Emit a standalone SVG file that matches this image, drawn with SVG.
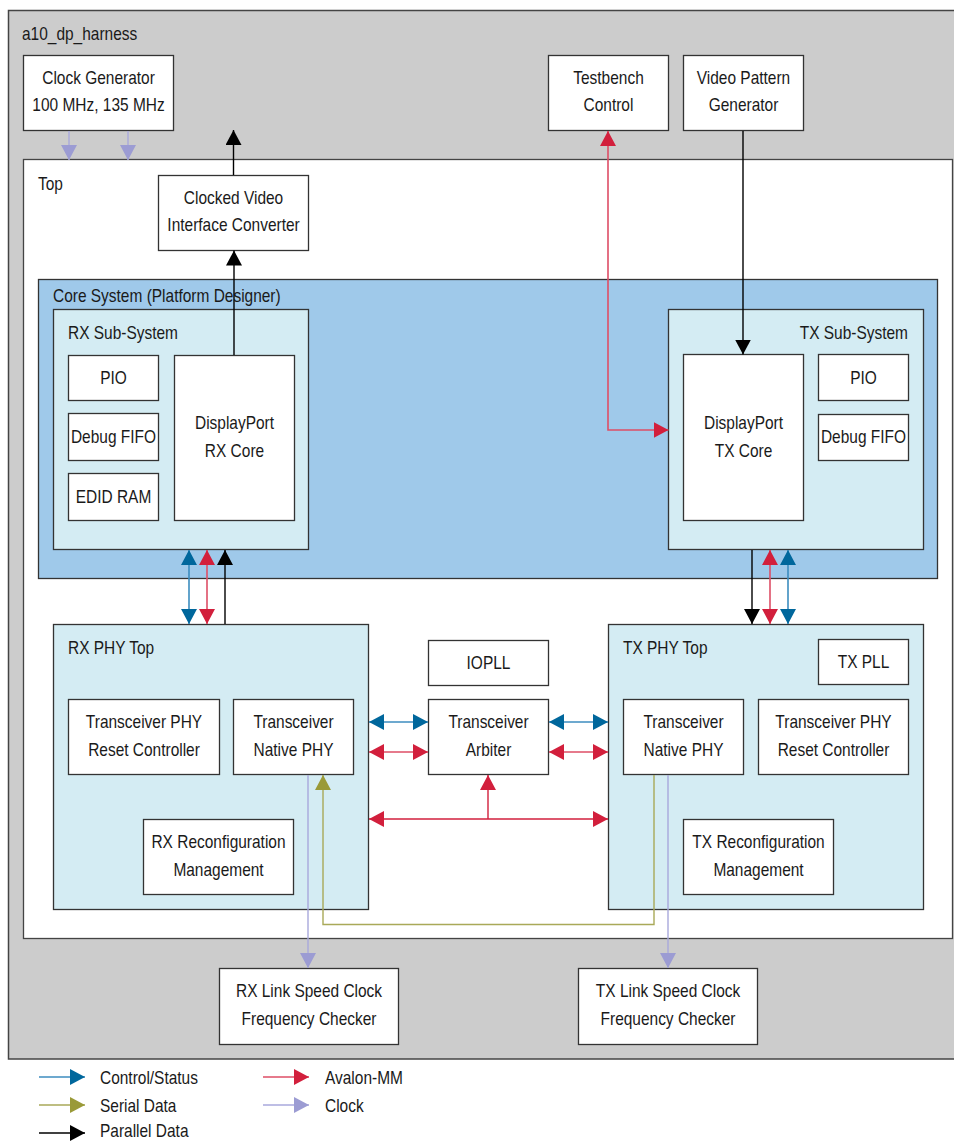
<svg xmlns="http://www.w3.org/2000/svg" width="954" height="1142" viewBox="0 0 954 1142">
<style>
.t{font-family:"Liberation Sans",Arial,sans-serif;font-size:18px;fill:#1a1a1a}
.c{text-anchor:middle;transform-box:fill-box;transform-origin:center;transform:scaleX(0.86)}
.l{transform-box:fill-box;transform-origin:left center;transform:scaleX(0.86)}
.r{text-anchor:end;transform-box:fill-box;transform-origin:right center;transform:scaleX(0.86)}
.w{fill:#fff;stroke:#333;stroke-width:1.3}
.lb{fill:#d4ecf3;stroke:#333;stroke-width:1.3}
.cs{fill:#9fc9ea;stroke:#333;stroke-width:1.3}
.k{fill:none;stroke:#000;stroke-width:1.4}
.bl{fill:none;stroke:#3c8dbf;stroke-width:1.6}
.rd{fill:none;stroke:#de4e66;stroke-width:1.6}
.rs{fill:none;stroke:#d21f3c;stroke-width:1.4}
.ol{fill:none;stroke:#a9a958;stroke-width:1.4}
.lv{fill:none;stroke:#a8a8dc;stroke-width:1.4}
</style>
<defs>
<marker id="aK" markerUnits="userSpaceOnUse" markerWidth="16" markerHeight="16" refX="15" refY="8" orient="auto-start-reverse"><path d="M0,0 L15,8 L0,16 z" fill="#000"/></marker>
<marker id="aB" markerUnits="userSpaceOnUse" markerWidth="16" markerHeight="16" refX="15" refY="8" orient="auto-start-reverse"><path d="M0,0 L15,8 L0,16 z" fill="#00679c"/></marker>
<marker id="aR" markerUnits="userSpaceOnUse" markerWidth="16" markerHeight="16" refX="15" refY="8" orient="auto-start-reverse"><path d="M0,0 L15,8 L0,16 z" fill="#d21f3c"/></marker>
<marker id="aO" markerUnits="userSpaceOnUse" markerWidth="16" markerHeight="16" refX="15" refY="8" orient="auto-start-reverse"><path d="M0,0 L15,8 L0,16 z" fill="#9a9a38"/></marker>
<marker id="aL" markerUnits="userSpaceOnUse" markerWidth="16" markerHeight="16" refX="15" refY="8" orient="auto-start-reverse"><path d="M0,0 L15,8 L0,16 z" fill="#9c9cd3"/></marker>
</defs>

<g id="harness">
<rect x="8.5" y="10.5" width="960" height="1048.5" fill="#cccccc" stroke="#444" stroke-width="1.5"/>
<text class="t l" x="22" y="40">a10_dp_harness</text>
</g>
<g id="clock-generator">
<rect class="w" x="23.5" y="55.5" width="150" height="75"/>
<text class="t c" x="98.5" y="84">Clock Generator</text>
<text class="t c" x="98.5" y="111">100 MHz, 135 MHz</text>
</g>
<g id="testbench-control">
<rect class="w" x="548.5" y="55.5" width="120" height="75"/>
<text class="t c" x="608.5" y="84">Testbench</text>
<text class="t c" x="608.5" y="111">Control</text>
</g>
<g id="video-pattern-generator">
<rect class="w" x="683.5" y="55.5" width="120" height="75"/>
<text class="t c" x="743.5" y="84">Video Pattern</text>
<text class="t c" x="743.5" y="111">Generator</text>
</g>
<g id="top">
<rect x="23.5" y="159.5" width="929" height="779" fill="#fff" stroke="#444" stroke-width="1.3"/>
<text class="t l" x="38" y="190">Top</text>
</g>
<g id="clocked-video-interface-converter">
<rect class="w" x="158.5" y="175.5" width="150" height="75"/>
<text class="t c" x="233.5" y="204">Clocked Video</text>
<text class="t c" x="233.5" y="231">Interface Converter</text>
</g>
<g id="core-system">
<rect class="cs" x="38.5" y="279.5" width="899" height="299"/>
<text class="t l" x="53" y="302">Core System (Platform Designer)</text>
</g>
<g id="rx-sub-system">
<rect class="lb" x="53.5" y="309.5" width="255" height="240"/>
<text class="t l" x="68" y="339">RX Sub-System</text>
</g>
<g id="rx-pio">
<rect class="w" x="68.5" y="355.5" width="90" height="45"/>
<text class="t c" x="113.5" y="384">PIO</text>
</g>
<g id="rx-debug-fifo">
<rect class="w" x="68.5" y="413.5" width="90" height="47"/>
<text class="t c" x="113.5" y="443">Debug FIFO</text>
</g>
<g id="edid-ram">
<rect class="w" x="68.5" y="473.5" width="90" height="47"/>
<text class="t c" x="113.5" y="503">EDID RAM</text>
</g>
<g id="displayport-rx-core">
<rect class="w" x="174.5" y="355.5" width="120" height="165"/>
<text class="t c" x="234.5" y="429">DisplayPort</text>
<text class="t c" x="234.5" y="457">RX Core</text>
</g>
<g id="tx-sub-system">
<rect class="lb" x="668.5" y="309.5" width="255" height="240"/>
<text class="t r" x="908" y="339">TX Sub-System</text>
</g>
<g id="displayport-tx-core">
<rect class="w" x="683.5" y="354.5" width="120" height="166"/>
<text class="t c" x="743.5" y="429">DisplayPort</text>
<text class="t c" x="743.5" y="457">TX Core</text>
</g>
<g id="tx-pio">
<rect class="w" x="818.5" y="354.5" width="90" height="46"/>
<text class="t c" x="863.5" y="384">PIO</text>
</g>
<g id="tx-debug-fifo">
<rect class="w" x="818.5" y="414.5" width="90" height="46"/>
<text class="t c" x="863.5" y="443">Debug FIFO</text>
</g>
<g id="rx-phy-top">
<rect class="lb" x="53.5" y="624.5" width="315" height="285"/>
<text class="t l" x="68" y="654">RX PHY Top</text>
</g>
<g id="rx-reset-controller">
<rect class="w" x="68.5" y="699.5" width="151" height="75"/>
<text class="t c" x="144" y="728">Transceiver PHY</text>
<text class="t c" x="144" y="756">Reset Controller</text>
</g>
<g id="rx-native-phy">
<rect class="w" x="233.5" y="699.5" width="120" height="75"/>
<text class="t c" x="293.5" y="728">Transceiver</text>
<text class="t c" x="293.5" y="756">Native PHY</text>
</g>
<g id="rx-reconfiguration-management">
<rect class="w" x="143.5" y="819.5" width="150" height="75"/>
<text class="t c" x="218.5" y="848">RX Reconfiguration</text>
<text class="t c" x="218.5" y="876">Management</text>
</g>
<g id="iopll">
<rect class="w" x="428.5" y="640.5" width="120" height="45"/>
<text class="t c" x="488.5" y="669">IOPLL</text>
</g>
<g id="transceiver-arbiter">
<rect class="w" x="428.5" y="699.5" width="120" height="75"/>
<text class="t c" x="488.5" y="728">Transceiver</text>
<text class="t c" x="488.5" y="756">Arbiter</text>
</g>
<g id="tx-phy-top">
<rect class="lb" x="608.5" y="624.5" width="315" height="285"/>
<text class="t l" x="623" y="654">TX PHY Top</text>
</g>
<g id="tx-pll">
<rect class="w" x="818.5" y="639.5" width="90" height="45"/>
<text class="t c" x="863.5" y="668">TX PLL</text>
</g>
<g id="tx-native-phy">
<rect class="w" x="623.5" y="699.5" width="120" height="75"/>
<text class="t c" x="683.5" y="728">Transceiver</text>
<text class="t c" x="683.5" y="756">Native PHY</text>
</g>
<g id="tx-reset-controller">
<rect class="w" x="758.5" y="699.5" width="150" height="75"/>
<text class="t c" x="833.5" y="728">Transceiver PHY</text>
<text class="t c" x="833.5" y="756">Reset Controller</text>
</g>
<g id="tx-reconfiguration-management">
<rect class="w" x="683.5" y="819.5" width="150" height="75"/>
<text class="t c" x="758.5" y="848">TX Reconfiguration</text>
<text class="t c" x="758.5" y="876">Management</text>
</g>
<g id="rx-link-speed-checker">
<rect class="w" x="219.5" y="968.5" width="179" height="76"/>
<text class="t c" x="309" y="997">RX Link Speed Clock</text>
<text class="t c" x="309" y="1025">Frequency Checker</text>
</g>
<g id="tx-link-speed-checker">
<rect class="w" x="578.5" y="968.5" width="179" height="76"/>
<text class="t c" x="668" y="997">TX Link Speed Clock</text>
<text class="t c" x="668" y="1025">Frequency Checker</text>
</g>

<g id="connectors">
<path class="lv" d="M69,131 V160" marker-end="url(#aL)"/>
<path class="lv" d="M128,131 V160" marker-end="url(#aL)"/>
<path class="k" d="M233.5,175 V130" marker-end="url(#aK)"/>
<path class="k" d="M234,355 V250.5" marker-end="url(#aK)"/>
<path class="rd" d="M608,131 V430 H668.5" marker-start="url(#aR)" marker-end="url(#aR)"/>
<path class="k" d="M743,131 V354.5" marker-end="url(#aK)"/>
<path class="bl" d="M189,550 V624" marker-start="url(#aB)" marker-end="url(#aB)"/>
<path class="rd" d="M207,550 V624" marker-start="url(#aR)" marker-end="url(#aR)"/>
<path class="k" d="M225,624 V550" marker-end="url(#aK)"/>
<path class="k" d="M752,550 V624" marker-end="url(#aK)"/>
<path class="rd" d="M770,550 V624" marker-start="url(#aR)" marker-end="url(#aR)"/>
<path class="bl" d="M788,550 V624" marker-start="url(#aB)" marker-end="url(#aB)"/>
<path class="bl" d="M369,722 H428" marker-start="url(#aB)" marker-end="url(#aB)"/>
<path class="rd" d="M369,752 H428" marker-start="url(#aR)" marker-end="url(#aR)"/>
<path class="bl" d="M549,722 H608" marker-start="url(#aB)" marker-end="url(#aB)"/>
<path class="rd" d="M549,752 H608" marker-start="url(#aR)" marker-end="url(#aR)"/>
<path class="rs" d="M369,819 H608" marker-start="url(#aR)" marker-end="url(#aR)"/>
<path class="rs" d="M488,819 V775" marker-end="url(#aR)"/>
<path class="ol" d="M654,775 V924.5 H323 V775" marker-end="url(#aO)"/>
<path class="lv" d="M308,775 V968" marker-end="url(#aL)"/>
<path class="lv" d="M668,775 V968" marker-end="url(#aL)"/>
</g>

<g id="legend">
<path class="bl" d="M39,1077 H85" marker-end="url(#aB)"/>
<text class="t l" x="100" y="1084">Control/Status</text>
<path class="ol" d="M39,1105 H85" marker-end="url(#aO)"/>
<text class="t l" x="100" y="1112">Serial Data</text>
<path class="k" d="M39,1133 H85" marker-end="url(#aK)"/>
<text class="t l" x="100" y="1137">Parallel Data</text>
<path class="rd" d="M263,1077 H309" marker-end="url(#aR)"/>
<text class="t l" x="325" y="1084">Avalon-MM</text>
<path class="lv" d="M263,1105 H309" marker-end="url(#aL)"/>
<text class="t l" x="325" y="1112">Clock</text>
</g>
</svg>
